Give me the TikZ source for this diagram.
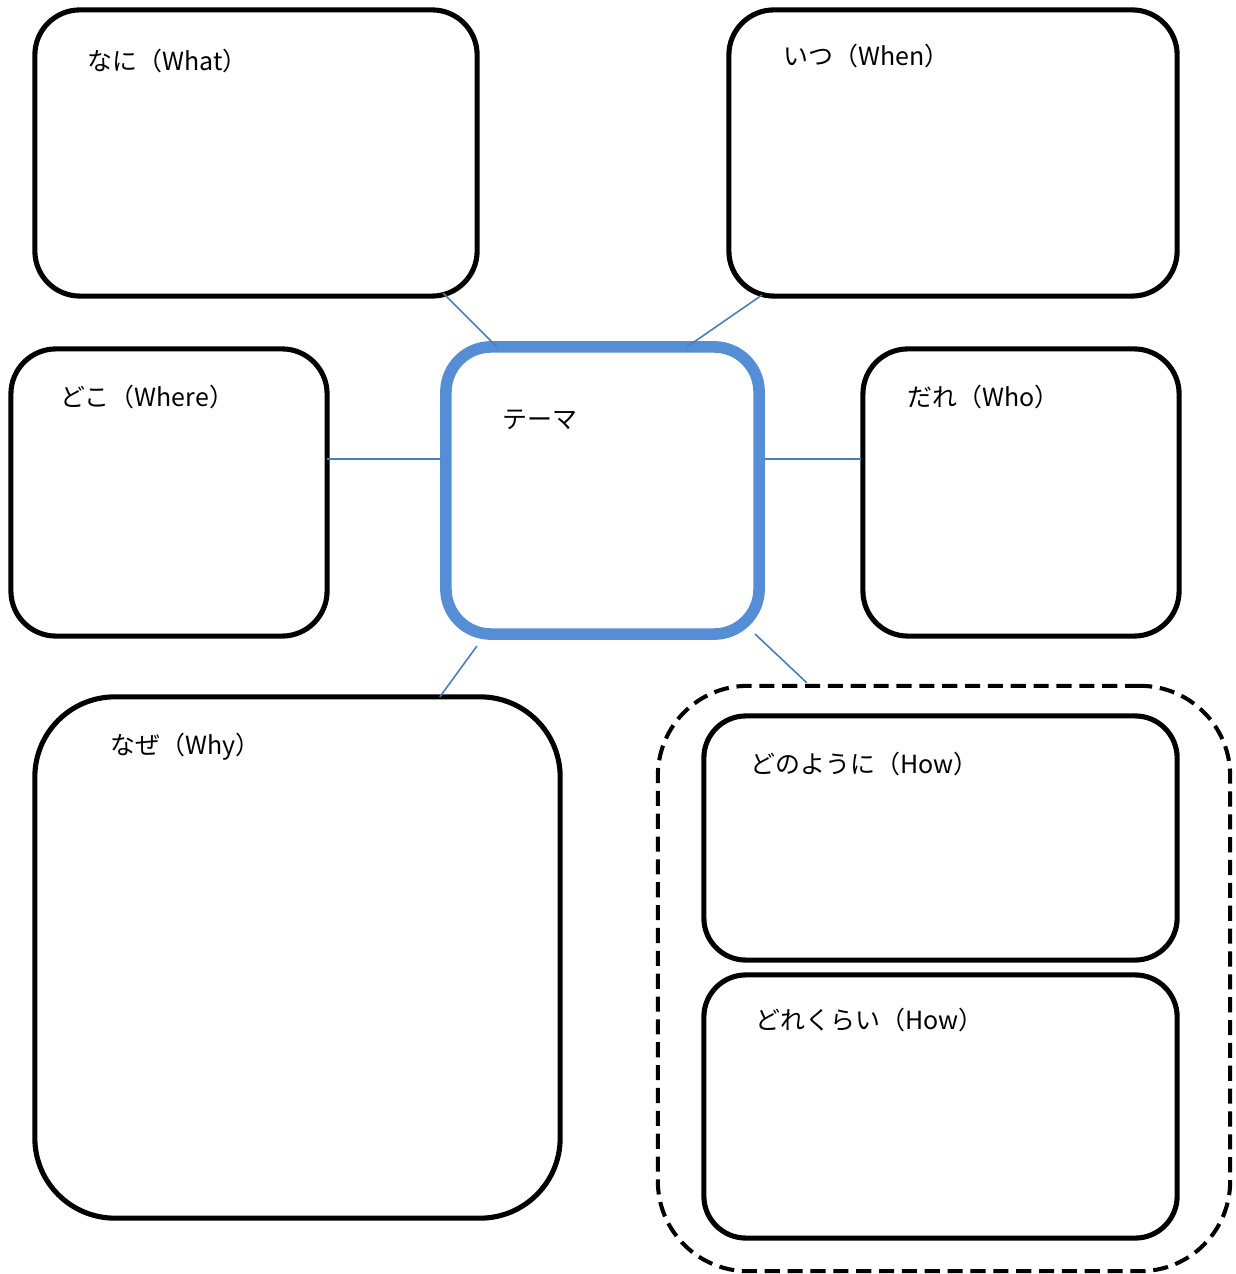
\documentclass[tikz,border=0pt]{standalone}
\usepackage{fontspec}
\setmainfont{Noto Sans CJK JP}
\usetikzlibrary{calc}
\definecolor{themeblue}{HTML}{558ED5}
\definecolor{connblue}{HTML}{4A7EBB}
\begin{document}
\begin{tikzpicture}[x=0.01cm,y=-0.01cm,
  box/.style={draw=black,line width=1.45pt,rectangle,inner sep=0pt,outer sep=0pt},
  themebox/.style={draw=themeblue,line width=3.3pt,rectangle,inner sep=0pt,outer sep=0pt,rounded corners=0.45cm},
  grp/.style={draw=black,line width=1.15pt,rectangle,inner sep=0pt,outer sep=0pt,dash pattern=on 4.3pt off 2.2pt,rounded corners=0.9cm},
  conn/.style={draw=connblue,line width=0.45pt},
  lbl/.style={anchor=west,inner sep=0pt,font=\fontsize{7.1}{8}\selectfont}]
\useasboundingbox (0,0) rectangle (1235,1274);
% boxes
\node[box,rounded corners=0.45cm,minimum width=4.42cm,minimum height=2.86cm] (what) at (256,153) {};
\node[box,rounded corners=0.45cm,minimum width=4.48cm,minimum height=2.86cm] (when) at (953,153) {};
\node[box,rounded corners=0.45cm,minimum width=3.16cm,minimum height=2.87cm] (where) at (169,492.5) {};
\node[themebox,minimum width=3.13cm,minimum height=2.87cm] (theme) at (602.5,490.5) {};
\node[box,rounded corners=0.45cm,minimum width=3.16cm,minimum height=2.87cm] (who) at (1021,492.5) {};
\node[box,rounded corners=0.8cm,minimum width=5.25cm,minimum height=5.21cm] (why) at (297.5,957.5) {};
\node[grp,minimum width=5.72cm,minimum height=5.85cm] (how) at (944,978.5) {};
\node[box,rounded corners=0.42cm,minimum width=4.73cm,minimum height=2.44cm] (howA) at (940.5,838) {};
\node[box,rounded corners=0.42cm,minimum width=4.73cm,minimum height=2.63cm] (howB) at (940.5,1106.5) {};
% labels
\node[lbl] (whatT) at (87,61) {なに（What）};
\node[lbl] (whenT) at (783,56) {いつ（When）};
\node[lbl] (whereT) at (60,397) {どこ（Where）};
\node[lbl] (themeT) at (502,420) {テーマ};
\node[lbl] (whoT) at (907,397) {だれ（Who）};
\node[lbl] (whyT) at (110,747) {なぜ（Why）};
\node[lbl] (howAT) at (750,764) {どのように（How）};
\node[lbl] (howBT) at (755,1020) {どれくらい（How）};
% connector end points
\coordinate (c1a) at ($(what.south east)+(-34,-3)$);
\coordinate (c1b) at ($(theme.north west)+(51,0)$);
\coordinate (c2a) at ($(when.south west)+(33,-1)$);
\coordinate (c2b) at ($(theme.north west)+(241,0)$);
\coordinate (c3a) at ($(where.east)+(0,-33.5)$);
\coordinate (c3b) at ($(theme.west)+(-5,-31.5)$);
\coordinate (c4a) at ($(theme.east)+(5,-31.5)$);
\coordinate (c4b) at ($(who.west)+(-2,-33.5)$);
\coordinate (c5a) at ($(theme.south west)+(31,12)$);
\coordinate (c5b) at ($(why.north west)+(405,0)$);
\coordinate (c6a) at ($(theme.south east)+(-4,0)$);
\coordinate (c6b) at ($(how.north west)+(149,-3)$);
\draw[conn] (c1a) -- (c1b);
\draw[conn] (c2a) -- (c2b);
\draw[conn] (c3a) -- (c3b);
\draw[conn] (c4a) -- (c4b);
\draw[conn] (c5a) -- (c5b);
\draw[conn] (c6a) -- (c6b);
\end{tikzpicture}
\end{document}
